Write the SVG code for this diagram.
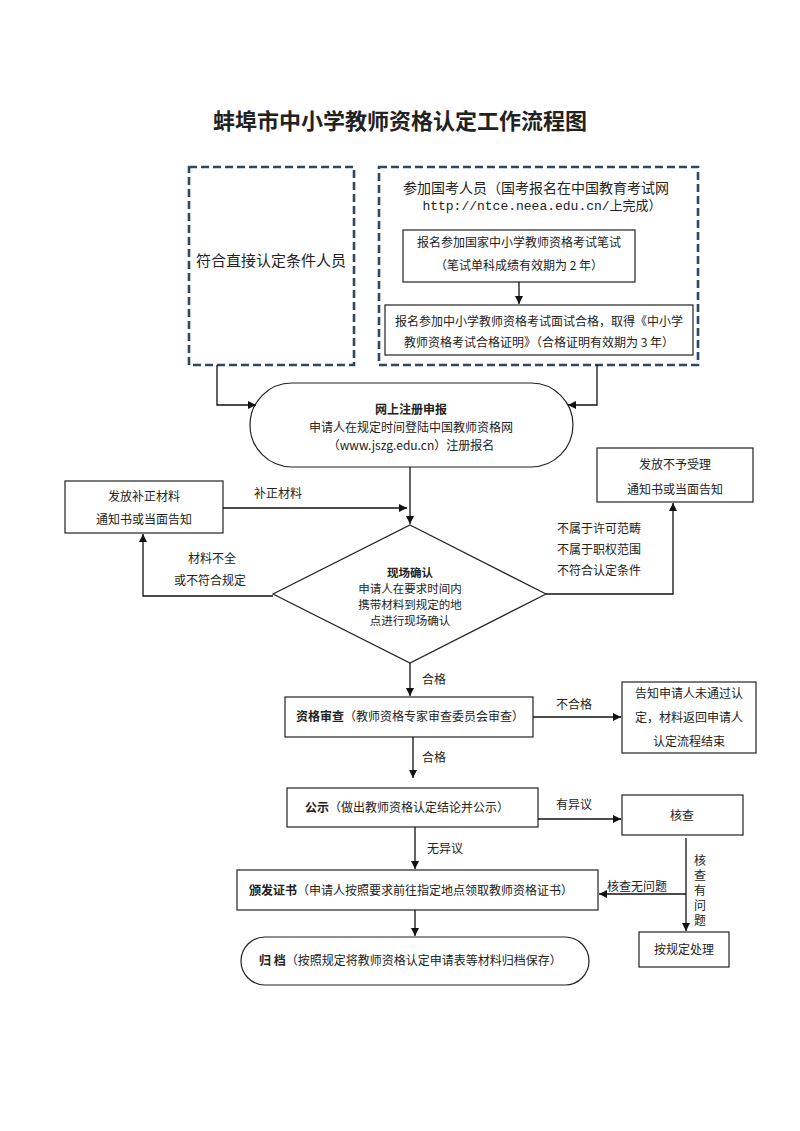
<svg xmlns="http://www.w3.org/2000/svg" width="800" height="1131" viewBox="0 0 800 1131">
<style>
text{font-family:"Noto Sans CJK SC","Liberation Sans",sans-serif;fill:#222;}
.t12{font-size:12px;text-anchor:middle;}
.l12{font-size:12px;}
.d{font-size:11.5px;text-anchor:middle;}
.b{font-weight:bold;}
.box{fill:#fff;stroke:#222;stroke-width:1.2;}
.dash{fill:none;stroke:#2f4766;stroke-width:2.6;stroke-dasharray:8 4;}
.ln{fill:none;stroke:#111;stroke-width:1.3;}
</style>
<defs>
<marker id="ah" viewBox="0 0 10 10" refX="10" refY="5" markerWidth="8" markerHeight="8" markerUnits="userSpaceOnUse" orient="auto">
<path d="M0,0 L10,5 L0,10 z" fill="#111"/>
</marker>
</defs>
<rect width="800" height="1131" fill="#fff"/>
<text x="400" y="129" style="font-size:22px;font-weight:bold;text-anchor:middle;">蚌埠市中小学教师资格认定工作流程图</text>

<g id="direct">
<rect class="dash" x="189" y="167" width="165" height="198"/>
<text x="271" y="266" style="font-size:15px;text-anchor:middle;">符合直接认定条件人员</text>
</g>
<g id="exam">
<rect class="dash" x="379" y="167" width="319" height="198"/>
<text x="536" y="193" style="font-size:14px;text-anchor:middle;">参加国考人员（国考报名在中国教育考试网</text>
<text x="542" y="210" style="font-size:13px;text-anchor:middle;font-family:'Liberation Mono','Noto Sans CJK SC',monospace;">http://ntce.neea.edu.cn/上完成）</text>
</g>
<g id="written">
<rect class="box" x="403" y="230" width="232" height="52"/>
<text class="t12" x="519" y="247">报名参加国家中小学教师资格考试笔试</text>
<text class="t12" x="519" y="270">（笔试单科成绩有效期为 2 年）</text>
</g>
<g id="interview">
<rect class="box" x="385" y="305" width="308" height="50"/>
<text class="t12" x="539" y="326">报名参加中小学教师资格考试面试合格，取得《中小学</text>
<text class="t12" x="539" y="347">教师资格考试合格证明》（合格证明有效期为 3 年）</text>
</g>
<g id="online">
<rect class="box" x="250" y="383" width="323" height="84" rx="42" ry="42"/>
<text class="t12 b" x="411" y="414">网上注册申报</text>
<text class="t12" x="411" y="432">申请人在规定时间登陆中国教师资格网</text>
<text class="t12" x="411" y="450">（www.jszg.edu.cn）注册报名</text>
</g>
<g id="supplement">
<rect class="box" x="65" y="481" width="158" height="52"/>
<text class="t12" x="144" y="501">发放补正材料</text>
<text class="t12" x="144" y="524">通知书或当面告知</text>
</g>
<g id="reject">
<rect class="box" x="597" y="448" width="156" height="54"/>
<text class="t12" x="675" y="469">发放不予受理</text>
<text class="t12" x="675" y="494">通知书或当面告知</text>
</g>
<g id="confirm">
<polygon class="box" points="410,525 546,594 410,663 273,594"/>
<text class="d b" x="410" y="577">现场确认</text>
<text class="d" x="410" y="593">申请人在要求时间内</text>
<text class="d" x="410" y="609">携带材料到规定的地</text>
<text class="d" x="410" y="625">点进行现场确认</text>
</g>
<g id="review">
<rect class="box" x="285" y="697" width="248" height="40"/>
<text class="l12" x="296" y="721"><tspan class="b">资格审查</tspan>（教师资格专家审查委员会审查）</text>
</g>
<g id="fail">
<rect class="box" x="622" y="682" width="134" height="71"/>
<text class="t12" x="689" y="698">告知申请人未通过认</text>
<text class="t12" x="689" y="722">定，材料返回申请人</text>
<text class="t12" x="689" y="746">认定流程结束</text>
</g>
<g id="publicity">
<rect class="box" x="287" y="788" width="251" height="39"/>
<text class="l12" x="305" y="812"><tspan class="b">公示</tspan>（做出教师资格认定结论并公示）</text>
</g>
<g id="check">
<rect class="box" x="622" y="795" width="121" height="40"/>
<text class="t12" x="682" y="820">核查</text>
</g>
<g id="issue">
<rect class="box" x="237" y="870" width="361" height="40"/>
<text class="l12" x="249" y="895"><tspan class="b">颁发证书</tspan>（申请人按照要求前往指定地点领取教师资格证书）</text>
</g>
<g id="handle">
<rect class="box" x="639" y="932" width="90" height="35"/>
<text class="t12" x="684" y="954">按规定处理</text>
</g>
<g id="archive">
<rect class="box" x="241" y="937" width="348" height="48" rx="24" ry="24"/>
<text class="l12" x="259" y="965"><tspan class="b">归  档</tspan>（按照规定将教师资格认定申请表等材料归档保存）</text>
</g>

<g id="connectors">
<path class="ln" d="M519,282 V304" marker-end="url(#ah)"/>
<path class="ln" d="M217,365 V405 H256" marker-end="url(#ah)"/>
<path class="ln" d="M597,365 V405 H568" marker-end="url(#ah)"/>
<path class="ln" d="M410,467 V524" marker-end="url(#ah)"/>
<path class="ln" d="M223,508 H407" marker-end="url(#ah)"/>
<text class="l12" x="254" y="498">补正材料</text>
<path class="ln" d="M273,596 H143 V534" marker-end="url(#ah)"/>
<text class="t12" x="212" y="563">材料不全</text>
<text class="t12" x="210" y="585">或不符合规定</text>
<path class="ln" d="M546,594 H673 V503" marker-end="url(#ah)"/>
<text class="l12" x="557" y="533">不属于许可范畴</text>
<text class="l12" x="557" y="554">不属于职权范围</text>
<text class="l12" x="557" y="575">不符合认定条件</text>
<path class="ln" d="M410,663 V696" marker-end="url(#ah)"/>
<text class="l12" x="422" y="684">合格</text>
<path class="ln" d="M533,717 H621" marker-end="url(#ah)"/>
<text class="l12" x="556" y="709">不合格</text>
<path class="ln" d="M413,737 V778" marker-end="url(#ah)"/>
<text class="l12" x="422" y="762">合格</text>
<path class="ln" d="M538,819 H621" marker-end="url(#ah)"/>
<text class="l12" x="556" y="809">有异议</text>
<path class="ln" d="M415,827 V869" marker-end="url(#ah)"/>
<text class="l12" x="427" y="853">无异议</text>
<path class="ln" d="M686,838 V931" marker-end="url(#ah)"/>
<path class="ln" d="M686,894 H599" marker-end="url(#ah)"/>
<text class="l12" x="607" y="891">核查无问题</text>
<text class="t12" x="700" y="865">核</text>
<text class="t12" x="700" y="880">查</text>
<text class="t12" x="700" y="895">有</text>
<text class="t12" x="700" y="910">问</text>
<text class="t12" x="700" y="925">题</text>
<path class="ln" d="M415,910 V936" marker-end="url(#ah)"/>
</g>
</svg>
